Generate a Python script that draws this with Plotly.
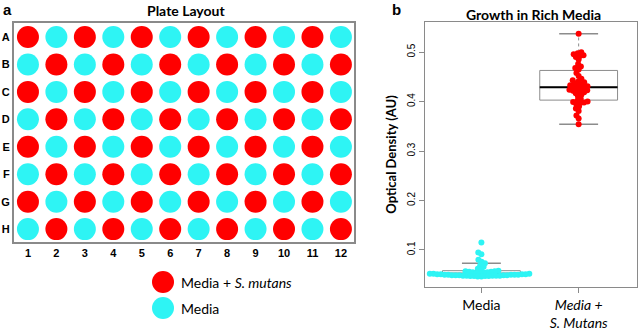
import numpy as np
import plotly.graph_objects as go

# ---------------- data ----------------
rows = list("ABCDEFGH")
cols = [str(i) for i in range(1, 13)]
# S = Media + S. mutans, M = Media
plate = [
    "SMSMSMSMSMSM",
    "MSMSMSMSMSMS",
    "SMSMSMSMSMSM",
    "MSMSMSMSMSMS",
    "SMSMSMSMSMSM",
    "MSMSMSMSMSMS",
    "SMSMSMSMSMSM",
    "MSMSMSMSMSMS",
]
legend_labels = ["Media + <i>S. mutans</i>", "Media"]

groups = ["Media", "<i>Media +<br>S. Mutans</i>"]
media_od = [0.115, 0.095, 0.091,
            0.080, 0.076, 0.073, 0.069, 0.066,
            0.062, 0.060, 0.058, 0.057, 0.057, 0.056, 0.056, 0.055, 0.055, 0.054,
            0.053, 0.053, 0.052, 0.052, 0.052, 0.051, 0.051, 0.051, 0.051,
            0.050, 0.050, 0.050, 0.050, 0.050, 0.049, 0.049, 0.049, 0.049, 0.049,
            0.048, 0.048, 0.048, 0.048, 0.048, 0.047, 0.047, 0.047, 0.047,
            0.046, 0.046]
mutans_od = [0.537, 0.500, 0.498, 0.496, 0.494, 0.492, 0.490, 0.485, 0.476, 0.471, 0.468, 0.465,
             0.458, 0.452, 0.446, 0.443, 0.441, 0.439, 0.437, 0.435, 0.433, 0.432, 0.431, 0.430,
             0.428, 0.427, 0.425, 0.424, 0.423, 0.422, 0.420, 0.419, 0.417, 0.414, 0.411, 0.406,
             0.402, 0.400, 0.399, 0.398, 0.397, 0.395, 0.390, 0.386, 0.381, 0.372, 0.366, 0.354]
box_lower = [0.046, 0.354]
box_q1 = [0.049, 0.403]
box_median = [0.052, 0.429]
box_q3 = [0.058, 0.463]
box_upper = [0.073, 0.537]
y_ticks = [0.1, 0.2, 0.3, 0.4, 0.5]

# ---------------- style ----------------
W, H = 638, 330
RED = "#ff0000"
CYAN = "#2ef4f4"
FRAME = "#8a8a8a"
BOXC = "#8c8c8c"
TXT = "#000000"

def px(x, y):
    return x / W, 1 - y / H

# axis geometry (pixels)
p_left, p_right, p_top, p_bot = 14, 354, 23, 242
b_left, b_right, b_top, b_bot = 425, 637, 22, 287
b_xr = [0.42, 2.60]
b_yr = [0.025, 0.561]

fig = go.Figure()

# ---------------- plate ----------------
px_list, py_list, pc_list = [], [], []
for ri, rstr in enumerate(plate):
    for ci, ch in enumerate(rstr):
        px_list.append(ci + 1)
        py_list.append(ri)
        pc_list.append(RED if ch == "S" else CYAN)
fig.add_trace(go.Scatter(x=px_list, y=py_list, mode="markers",
                         marker=dict(size=22, color=pc_list, line=dict(width=0)),
                         xaxis="x", yaxis="y", showlegend=False, hoverinfo="skip"))

# ---------------- box plot ----------------
pos = [1, 2]
BW, CW = 0.4, 0.2  # half widths of box and whisker caps (axis units)
for i in range(2):
    p = pos[i]
    # box body (whiskers drawn separately, dashed, as in R)
    fig.add_trace(go.Box(x=[p], q1=[box_q1[i]], median=[box_median[i]], q3=[box_q3[i]],
                         lowerfence=[box_q1[i]], upperfence=[box_q3[i]],
                         width=2 * BW, whiskerwidth=0, fillcolor="rgba(0,0,0,0)",
                         line=dict(color=BOXC, width=1), boxpoints=False,
                         xaxis="x2", yaxis="y2", showlegend=False, hoverinfo="skip"))
    # dashed whiskers
    fig.add_trace(go.Scatter(x=[p, p, None, p, p],
                             y=[box_q3[i], box_upper[i], None, box_q1[i], box_lower[i]],
                             mode="lines", line=dict(color=BOXC, width=1, dash="dot"),
                             xaxis="x2", yaxis="y2", showlegend=False, hoverinfo="skip"))
    # caps
    fig.add_trace(go.Scatter(x=[p - CW, p + CW, None, p - CW, p + CW],
                             y=[box_upper[i], box_upper[i], None, box_lower[i], box_lower[i]],
                             mode="lines", line=dict(color=BOXC, width=1.5),
                             xaxis="x2", yaxis="y2", showlegend=False, hoverinfo="skip"))
    # median
    fig.add_trace(go.Scatter(x=[p - BW, p + BW], y=[box_median[i]] * 2,
                             mode="lines", line=dict(color="#000", width=2),
                             xaxis="x2", yaxis="y2", showlegend=False, hoverinfo="skip"))

ypx = (b_bot - b_top) / (b_yr[1] - b_yr[0])
xpx = (b_right - b_left) / (b_xr[1] - b_xr[0])

def swarm(vals, d=3.7):
    vals = np.asarray(vals, float)
    order = np.argsort(vals, kind="stable")
    placed = []
    xs = np.zeros(len(vals))
    for i in order:
        y = vals[i] * ypx
        cands = [0.0]
        for (qx, qy) in placed:
            dy = y - qy
            if abs(dy) < d:
                dx = np.sqrt(d * d - dy * dy)
                cands += [qx + dx, qx - dx]
        cands.sort(key=lambda c: (abs(c), c))
        chosen = cands[0]
        for c in cands:
            if all((c - qx) ** 2 + (y - qy) ** 2 >= d * d - 1e-6 for qx, qy in placed):
                chosen = c
                break
        placed.append((chosen, y))
        xs[i] = chosen / xpx
    return xs

for i, (vals, col) in enumerate([(media_od, CYAN), (mutans_od, RED)]):
    off = swarm(vals)
    fig.add_trace(go.Scatter(x=pos[i] + off, y=vals, mode="markers",
                             marker=dict(size=6, color=col, line=dict(width=0)),
                             xaxis="x2", yaxis="y2", showlegend=False, hoverinfo="skip"))

# ---------------- layout ----------------
lab_font = dict(family="Liberation Sans, Arial", size=11, color=TXT)
fig.update_layout(
    width=W, height=H, margin=dict(l=0, r=0, t=0, b=0, autoexpand=False),
    paper_bgcolor="white", plot_bgcolor="white",
    xaxis=dict(domain=[p_left / W, p_right / W], range=[0.51, 12.46], automargin=False,
               tickvals=list(range(1, 13)), ticktext=["<b>%s</b>" % c for c in cols],
               tickfont=lab_font, showgrid=False, zeroline=False,
               showline=True, mirror=True, linecolor=FRAME, linewidth=2, ticks=""),
    yaxis=dict(domain=[1 - p_bot / H, 1 - p_top / H], range=[7.47, -0.51], automargin=False,
               tickvals=list(range(8)), ticktext=["<b>%s</b>" % r for r in rows],
               tickfont=lab_font, showgrid=False, zeroline=False,
               showline=True, mirror=True, linecolor=FRAME, linewidth=2, ticks="",
               anchor="x"),
    xaxis2=dict(domain=[b_left / W, b_right / W], range=b_xr, anchor="y2", automargin=False,
                tickvals=pos, ticktext=groups,
                tickfont=dict(family="Lato", size=14, color=TXT),
                showgrid=False, zeroline=False, showline=True, mirror=True,
                linecolor=FRAME, linewidth=1, ticks="outside", ticklen=5, tickcolor=FRAME),
    yaxis2=dict(domain=[1 - b_bot / H, 1 - b_top / H], range=b_yr, anchor="x2", automargin=False,
                tickvals=y_ticks, ticktext=[str(v) for v in y_ticks], tickangle=-90,
                tickfont=dict(family="Liberation Sans, Arial", size=10, color=TXT),
                showgrid=False, zeroline=False, showline=True, mirror=True,
                linecolor=FRAME, linewidth=1, ticks="outside", ticklen=5, tickcolor=FRAME,
                title=dict(text="<b>Optical Density (AU)</b>",
                           font=dict(family="Lato", size=13, color=TXT), standoff=6)),
)

ann = []
def add_text(x, y, text, size, xanchor="center", family="Lato"):
    ax, ay = px(x, y)
    ann.append(dict(x=ax, y=ay, xref="paper", yref="paper", text=text, showarrow=False,
                    xanchor=xanchor, yanchor="middle",
                    font=dict(family=family, size=size, color=TXT)))

add_text(1, 10, "<b>a</b>", 15, xanchor="left", family="Liberation Sans, Arial")
add_text(390, 10, "<b>b</b>", 15, xanchor="left", family="Liberation Sans, Arial")
add_text(185.5, 11, "<b>Plate Layout</b>", 14)
add_text(533, 14, "<b>Growth in Rich Media</b>", 14)

shapes = []
leg_y = [282, 308]
leg_col = [RED, CYAN]
for lab, ly, lc in zip(legend_labels, leg_y, leg_col):
    ax, ay = px(163, ly)
    shapes.append(dict(type="circle", xref="paper", yref="paper", xsizemode="pixel",
                       ysizemode="pixel", xanchor=ax, yanchor=ay, x0=-11, x1=11, y0=-11, y1=11,
                       fillcolor=lc, line=dict(width=0)))
    add_text(179, ly, lab, 14, xanchor="left")

fig.update_layout(annotations=ann, shapes=shapes)
fig.write_html("out.html", config={"displayModeBar": False},
               post_script="document.body.style.margin='0';document.body.style.padding='0';")
